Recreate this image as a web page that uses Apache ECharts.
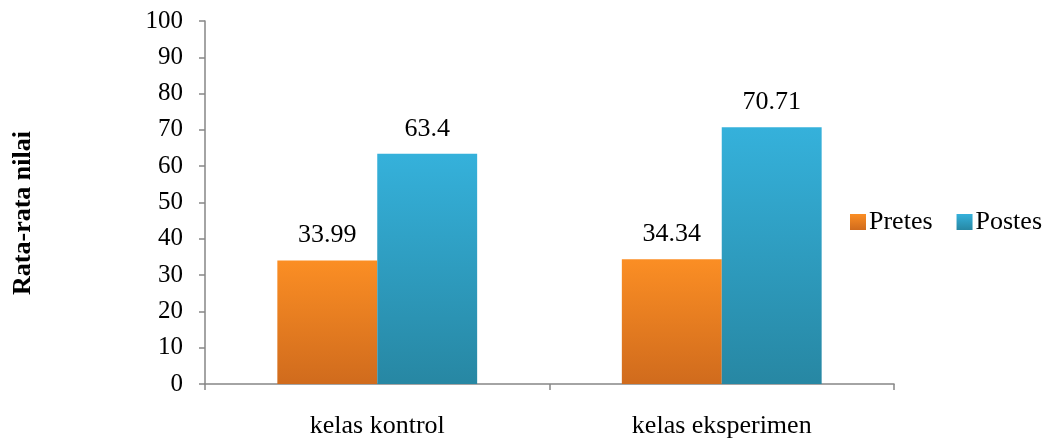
<!DOCTYPE html>
<html>
<head>
<meta charset="utf-8">
<script src="https://cdn.jsdelivr.net/npm/echarts@6/dist/echarts.min.js"></script>
<style>
  html, body { margin: 0; padding: 0; background: #fff; }
  #chart { width: 1050px; height: 441px; }
</style>
</head>
<body>
<div id="chart"></div>
<script>
// Class averages before (pretes) and after (postes) the treatment
const categories = ['kelas kontrol', 'kelas eksperimen'];
const pretes = [33.99, 34.34];
const postes = [63.4, 70.71];
const seriesNames = ['Pretes', 'Postes'];
const yTitle = 'Rata-rata nilai';

const FONT = '"Liberation Serif", "DejaVu Serif", serif';

function grad(top, bottom) {
  return new echarts.graphic.LinearGradient(0, 0, 0, 1, [
    { offset: 0, color: top },
    { offset: 1, color: bottom }
  ]);
}

const labelStyle = {
  show: true,
  position: 'top',
  distance: 12,
  color: '#000',
  fontFamily: FONT,
  fontSize: 26
};

const chart = echarts.init(document.getElementById('chart'), null, { renderer: 'canvas' });
chart.setOption({
  animation: false,
  backgroundColor: '#fff',
  grid: { left: 205, right: 156, top: 21, bottom: 57, containLabel: false },
  legend: {
    orient: 'horizontal',
    left: 850,
    top: 209,
    padding: 0,
    itemWidth: 16,
    itemHeight: 16,
    itemGap: 24,
    icon: 'rect',
    textStyle: { fontFamily: FONT, fontSize: 26, color: '#000', padding: [0, 0, 0, -2] },
    data: seriesNames
  },
  graphic: [{
    type: 'text',
    x: 23,
    y: 213,
    rotation: Math.PI / 2,
    style: {
      text: yTitle,
      fontFamily: FONT,
      fontSize: 26,
      fontWeight: 'bold',
      fill: '#000',
      align: 'center',
      verticalAlign: 'middle'
    }
  }],
  xAxis: {
    type: 'category',
    data: categories,
    axisLine: { lineStyle: { color: '#868686', width: 1.5 } },
    axisTick: { show: true, length: 6, lineStyle: { color: '#868686', width: 1.5 } },
    axisLabel: { fontFamily: FONT, fontSize: 26, color: '#000', margin: 29 }
  },
  yAxis: {
    type: 'value',
    min: 0,
    max: 100,
    interval: 10,
    splitLine: { show: false },
    axisLine: { show: true, lineStyle: { color: '#868686', width: 1.5 } },
    axisTick: { show: true, length: 6, lineStyle: { color: '#868686', width: 1.5 } },
    axisLabel: { fontFamily: FONT, fontSize: 25, color: '#000', margin: 22 }
  },
  series: [
    {
      name: seriesNames[0],
      type: 'bar',
      data: pretes,
      barGap: '0%',
      barCategoryGap: '42%',
      itemStyle: { color: grad('#FB8E24', '#D06B1D') },
      label: labelStyle
    },
    {
      name: seriesNames[1],
      type: 'bar',
      data: postes,
      itemStyle: { color: grad('#35B1DB', '#2787A3') },
      label: labelStyle
    }
  ]
});
</script>
</body>
</html>
